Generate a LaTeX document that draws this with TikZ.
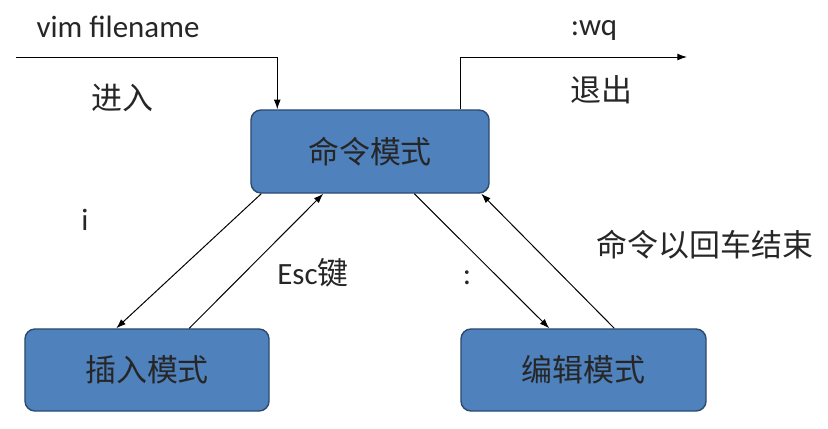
\documentclass[tikz,border=0pt]{standalone}
\usepackage{fontspec}
\setmainfont{Carlito}
\newfontfamily\cjk{Noto Sans CJK SC}
\definecolor{BoxBlue}{HTML}{4F81BD}
\definecolor{BoxEdge}{HTML}{2C4A70}
\usetikzlibrary{positioning, arrows.meta, calc}

\begin{document}
\begin{tikzpicture}[
  x=0.025cm, y=-0.025cm,
  mode/.style={draw=BoxEdge, line width=1pt, fill=BoxBlue, rounded corners=0.25cm, font=\fontsize{22}{26}\selectfont\cjk, text=black!85},
  lbl/.style={font=\fontsize{22}{26}\selectfont, text=black!85},
  link/.style={line width=0.7pt, -{Latex[length=0.24cm, width=0.17cm]}},
]
  \useasboundingbox (0,0) rectangle (828,428);

  % Modes
  \node[mode, minimum width=5.95cm, minimum height=2.075cm] (cmd) at (370,151.5) {命令模式};
  \node[mode, minimum width=6.1cm, minimum height=2.05cm] (ins) at (147,370) {插入模式};
  \node[mode, minimum width=6.125cm, minimum height=2.05cm] (edt) at (583.5,370) {编辑模式};

  % Enter and quit
  \coordinate (start) at (16,57);
  \coordinate (quit) at (687,57);
  \draw[link] (start) -| ($(cmd.north west)+(27,0)$);
  \draw[link] ($(cmd.north west)+(210,0)$) |- (quit);
  \node[lbl] (vim) at (118,27) {vim filename};
  \node[lbl, font=\fontsize{22}{26}\selectfont\cjk] (enter) at (122,98) {进入};
  \node[lbl] (wq) at (594,30) {:wq};
  \node[lbl, font=\fontsize{22}{26}\selectfont\cjk] (exit) at (601,90) {退出};

  % Command <-> insert
  \draw[link] ($(cmd.south west)+(11,0)$) -- ($(ins.north west)+(92,0)$);
  \draw[link] ($(ins.north west)+(165,0)$) -- ($(cmd.south west)+(73,0)$);
  \node[lbl] (keyi) at (85,220) {i};
  \node[lbl] (esc) at (313,273) {Esc{\cjk 键}};

  % Command <-> edit
  \draw[link] ($(cmd.south west)+(164,0)$) -- ($(edt.north west)+(89,0)$);
  \draw[link] ($(edt.north west)+(154,0)$) -- ($(cmd.south west)+(231,0)$);
  \node[lbl] (colon) at (467,278) {:};
  \node[lbl, font=\fontsize{22}{26}\selectfont\cjk] (ret) at (705,245) {命令以回车结束};
\end{tikzpicture}
\end{document}
